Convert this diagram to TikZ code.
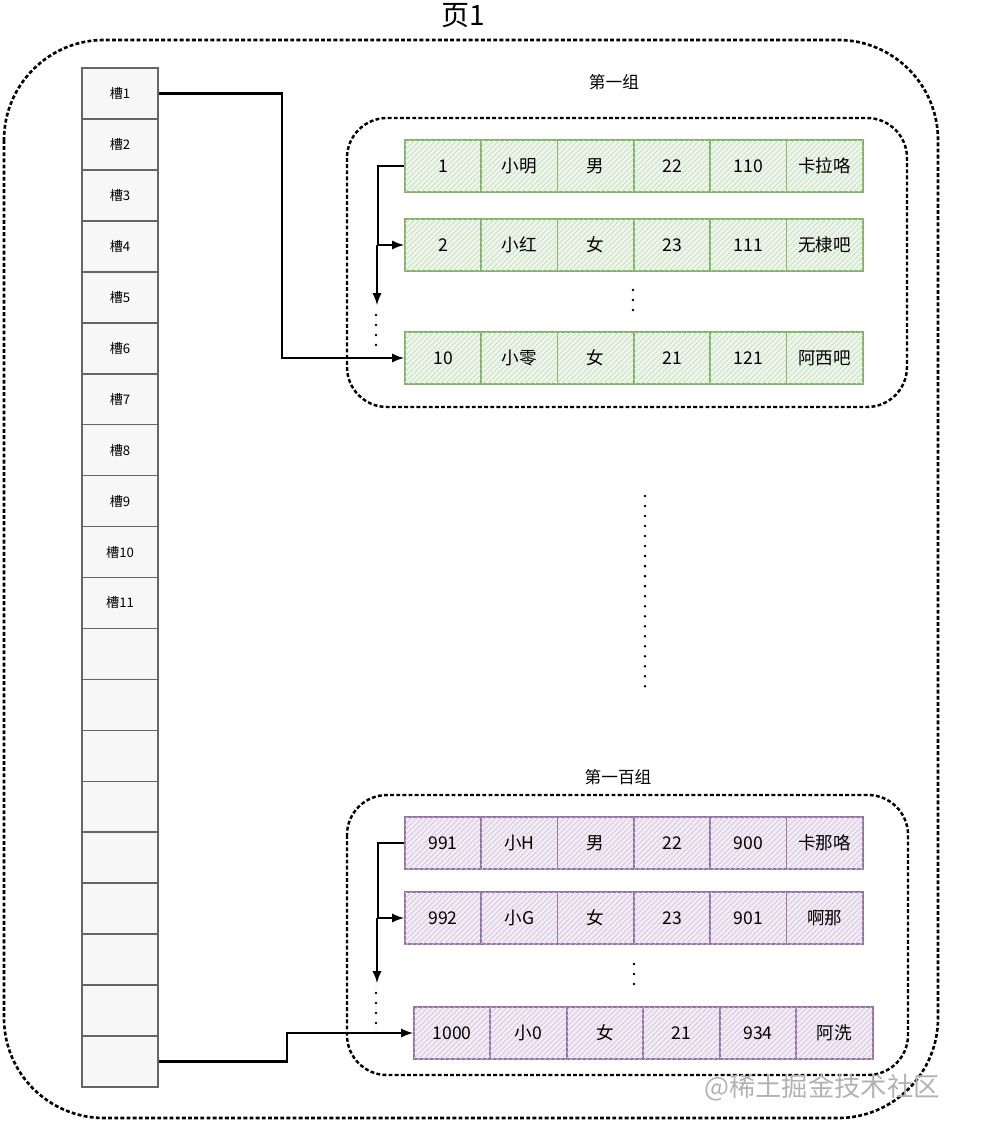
\documentclass[tikz,border=0pt]{standalone}
\usepackage{fontspec}
\setmainfont{Noto Sans CJK SC}
\usepackage{tikz}
\usetikzlibrary{arrows,patterns,positioning,calc}

\definecolor{grnline}{HTML}{82B366}
\definecolor{grnfill}{HTML}{EEF6EC}
\definecolor{grnhatch}{HTML}{C6DDC0}
\definecolor{violine}{HTML}{9673A6}
\definecolor{viofill}{HTML}{F2ECF5}
\definecolor{viohatch}{HTML}{D4C4DC}

\tikzset{
  slot/.style={draw=black!60,fill=black!3,line width=.9pt,minimum width=1.52cm,minimum height=1.019cm,inner sep=0pt,font=\fontsize{7.5}{9}\selectfont},
  cell/.style={anchor=west,minimum width=1.527cm,minimum height=1.04cm,inner sep=0pt,line width=1pt,font=\fontsize{10}{12}\selectfont},
  grncell/.style={cell,draw=grnline,fill=grnfill,postaction={pattern=north east lines,pattern color=grnhatch}},
  viocell/.style={cell,draw=violine,fill=viofill,postaction={pattern=north east lines,pattern color=viohatch}},
  pagebox/.style={line width=1.5pt,dash pattern=on 2.2pt off 1.3pt,rounded corners=2cm},
  groupbox/.style={line width=1.4pt,dash pattern=on 2.2pt off 1.3pt,rounded corners=.8cm},
  link/.style={line width=1.3pt,-latex},
  dotline/.style={line width=1.6pt,line cap=round,dash pattern=on 0pt off 5.7pt},
  grouptitle/.style={font=\fontsize{9.5}{11}\selectfont}
}

\begin{document}
\begin{tikzpicture}[x=0.02cm,y=-0.02cm]
  \useasboundingbox (0,0) rectangle (1003,1135);

  % page
  \node (title) at (463,16) {\fontsize{16}{19}\selectfont 页1};
  \draw[pagebox] (4,40) rectangle (938,1118);

  % slots
  \foreach \i in {1,...,20}
    \node[slot] (s\i) at (120,{93.5+(\i-1)*50.95}) {\ifnum\i<12 槽\i\fi};

  % first group
  \node[grouptitle] (g1) at (614,82) {第一组};
  \draw[groupbox] (347,118) rectangle (907,407);
  \foreach \t [count=\i] in {1,小明,男,22,110,卡拉咯}
    \node[grncell] (a1\i) at ({404+(\i-1)*76.33},166) {\t};
  \foreach \t [count=\i] in {2,小红,女,23,111,无棣吧}
    \node[grncell] (a2\i) at ({404+(\i-1)*76.33},245) {\t};
  \foreach \t [count=\i] in {10,小零,女,21,121,阿西吧}
    \node[grncell] (a3\i) at ({404+(\i-1)*76.33},358) {\t};
  \draw[dotline] (633,290) -- (633,312);

  \draw[link] (a11.west) -- ++(-26,0) |- (a21.west);
  \coordinate (a2down) at (377,305);
  \draw[link] (377,245) -- (a2down);
  \draw[dotline] (376,315) -- (376,348);
  \draw[link] (s1.east) -| (282,250) |- (a31.west);

  % between the groups
  \draw[dotline] (645,496) -- (645,692);

  % hundredth group
  \node[grouptitle] (g100) at (618,777) {第一百组};
  \draw[groupbox] (347,795) rectangle (908,1075);
  \foreach \t [count=\i] in {991,小H,男,22,900,卡那咯}
    \node[viocell] (b1\i) at ({404+(\i-1)*76.33},843) {\t};
  \foreach \t [count=\i] in {992,小G,女,23,901,啊那}
    \node[viocell] (b2\i) at ({404+(\i-1)*76.33},918) {\t};
  \foreach \t [count=\i] in {1000,小0,女,21,934,阿洗}
    \node[viocell] (b3\i) at ({413+(\i-1)*76.5},1033) {\t};
  \draw[dotline] (634,964) -- (634,990);

  \draw[link] (b11.west) -- ++(-26,0) |- (b21.west);
  \coordinate (b2down) at (377,983);
  \draw[link] (377,918) -- (b2down);
  \draw[dotline] (376,993) -- (376,1025);
  \draw[link] (s20.east) -| (287,1045) |- (b31.west);

  % watermark
  \node[text=black!30,font=\fontsize{15}{18}\selectfont] (wm) at (822,1088) {@稀土掘金技术社区};
\end{tikzpicture}
\end{document}
